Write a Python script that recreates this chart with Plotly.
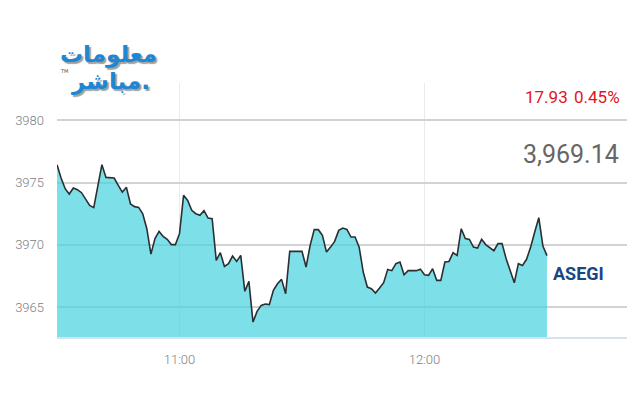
import pandas as pd
import plotly.graph_objects as go

# ---- data ----
start_time = "2024-01-01 10:30"
values = [
    3976.44, 3975.37, 3974.51, 3974.08, 3974.56, 3974.43, 3974.19, 3973.71, 3973.17, 3972.99,
    3974.70, 3976.44, 3975.42, 3975.40, 3975.37, 3974.78, 3974.24, 3974.62, 3973.28, 3973.07,
    3973.01, 3972.50, 3971.30, 3969.26, 3970.50, 3971.08, 3970.68, 3970.44, 3970.02, 3970.02,
    3970.90, 3973.98, 3973.57, 3972.77, 3972.50, 3972.37, 3972.75, 3972.15, 3972.10, 3968.76,
    3969.37, 3968.27, 3968.49, 3969.10, 3968.67, 3969.16, 3966.27, 3967.07, 3963.80, 3964.66,
    3965.14, 3965.25, 3965.20, 3966.35, 3966.88, 3967.23, 3966.08, 3969.48, 3969.48, 3969.48,
    3969.48, 3968.22, 3969.96, 3971.22, 3971.22, 3970.76, 3969.42, 3969.82, 3970.28, 3971.16,
    3971.35, 3971.24, 3970.63, 3970.63, 3969.82, 3967.82, 3966.61, 3966.48, 3966.13, 3966.53,
    3966.96, 3968.03, 3967.93, 3968.49, 3968.62, 3967.60, 3967.93, 3967.93, 3967.93, 3968.05,
    3967.60, 3967.55, 3968.09, 3967.15, 3967.15, 3968.62, 3968.67, 3969.37, 3969.16, 3971.30,
    3970.50, 3970.44, 3969.82, 3969.74, 3970.44, 3970.02, 3969.74, 3969.53, 3970.10, 3970.10,
    3968.89, 3967.95, 3966.96, 3968.49, 3968.35, 3968.84, 3969.82, 3971.03, 3972.18, 3969.90,
    3969.14,
]
times = pd.date_range(start_time, periods=len(values), freq="min")

y_ticks = [3965, 3970, 3975, 3980]
x_ticks = ["2024-01-01 11:00", "2024-01-01 12:00"]
x_tick_labels = ["11:00", "12:00"]
x_range = ["2024-01-01 10:30", "2024-01-01 12:49:36"]
y_range = [3962.6, 3983.0]

change_abs = "17.93"
change_pct = "0.45%"
last_value = "3,969.14"
index_name = "ASEGI"
logo_line1 = "معلومات"
logo_line2 = "مباشر."

FONT = "Roboto, Arial, sans-serif"

fig = go.Figure()
fig.add_trace(go.Scatter(
    x=times, y=values, mode="lines",
    line=dict(color="#2b2f33", width=1.6),
    fill="tozeroy", fillcolor="rgba(70,210,222,0.70)",
    hoverinfo="skip", showlegend=False,
))

# page body has an 8px default margin: compensate so the plot lands at x 57..627, y 83..337
fig.update_layout(
    width=632, height=392,
    margin=dict(l=49, r=13, t=75, b=63),
    paper_bgcolor="white", plot_bgcolor="white",
    xaxis=dict(
        range=x_range, tickvals=x_ticks, ticktext=x_tick_labels,
        showgrid=True, gridcolor="#ebebeb", gridwidth=1,
        showline=True, linecolor="#d6e2ee", linewidth=2,
        ticks="", zeroline=False, automargin=False,
        ticklabelstandoff=9,
        tickfont=dict(family=FONT, size=13, color="#808080", weight=300),
    ),
    yaxis=dict(
        range=y_range, tickvals=y_ticks,
        showgrid=True, gridcolor="#d2d2d2", gridwidth=2,
        showline=False, zeroline=False, ticks="", automargin=False,
        ticklabelstandoff=12,
        tickfont=dict(family=FONT, size=13, color="#808080", weight=300),
    ),
)

def px(xp):
    return (xp - 57) / 570.0

def py(yp):
    return (337 - yp) / 254.0

logo_font = dict(family="DejaVu Sans", size=23, color="#1f86d6", weight="bold",
                 shadow="2px 2px 1px #a0a0a0")
anns = [
    dict(text=change_abs, x=px(570), y=py(97), xanchor="right", yanchor="middle",
         font=dict(family=FONT, size=17, color="#e0151b")),
    dict(text=change_pct, x=px(622), y=py(97), xanchor="right", yanchor="middle",
         font=dict(family=FONT, size=17, color="#e0151b")),
    dict(text=last_value, x=px(621), y=py(154), xanchor="right", yanchor="middle",
         font=dict(family=FONT, size=25, color="#666666")),
    dict(text=index_name, x=px(606), y=py(273), xanchor="right", yanchor="middle",
         font=dict(family=FONT, size=18, color="#1a4686", weight="bold")),
    dict(text=logo_line1, x=px(159), y=py(55), xanchor="right", yanchor="middle",
         font=logo_font),
    dict(text=logo_line2, x=px(152), y=py(81), xanchor="right", yanchor="middle",
         font=logo_font),
    dict(text="TM", x=px(64), y=py(71), xanchor="center", yanchor="middle",
         font=dict(family="DejaVu Sans", size=5, color="#555555")),
]
for a in anns:
    a.update(xref="paper", yref="paper", showarrow=False)
fig.update_layout(annotations=anns)

fig.write_html("out.html")
